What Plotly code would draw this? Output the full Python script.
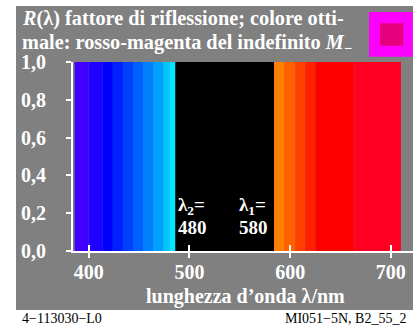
import plotly.graph_objects as go

# ---- data ----
band_start = [386, 400, 414, 424, 434, 444, 454, 464, 474, 480, 486, 584, 594, 605, 615, 625, 664]
band_end = [400, 414, 424, 434, 444, 454, 464, 474, 480, 486, 584, 594, 605, 615, 625, 664, 710]
band_height = [1.0, 1.0, 1.0, 1.0, 1.0, 1.0, 1.0, 1.0, 1.0, 1.0, 1.0, 1.0, 1.0, 1.0, 1.0, 1.0, 1.0]
band_color = ["#4000FF", "#2000FF", "#0000FF", "#0020FF", "#0040FF", "#0060FF", "#0080FF",
              "#00A0FF", "#00C4FF", "#00E4FF", "#000000", "#FF8000", "#FF6000", "#FF4000",
              "#FF2000", "#FF0000", "#FF0022"]
x_ticks = [400, 500, 600, 700]
y_ticks = [0.0, 0.2, 0.4, 0.6, 0.8, 1.0]
y_ticktext = ["0,0", "0,2", "0,4", "0,6", "0,8", "1,0"]
lambda2 = 480
lambda1 = 580

centers = [(a + b) / 2 for a, b in zip(band_start, band_end)]
widths = [b - a for a, b in zip(band_start, band_end)]

SERIF = "Liberation Serif"
GRAY = "#808080"
W, H = 413, 331
L, R, T, B = 73, 0, 62, 80
PW = W - L - R
PH = H - T - B


def px_x(p):
    return (p - L) / PW


def px_y(p):
    return (H - B - p) / PH


fig = go.Figure()
fig.add_trace(go.Bar(x=centers, y=band_height, width=widths,
                     marker=dict(color=band_color, line=dict(width=0)),
                     hoverinfo="skip", showlegend=False))
fig.add_trace(go.Scatter(x=[None], y=[None], xaxis="x2", showlegend=False, hoverinfo="skip"))

tickfont = dict(family=SERIF, size=20, color="white", weight="bold")

fig.update_layout(
    width=W, height=H,
    margin=dict(l=L, r=R, t=T, b=B, pad=0),
    paper_bgcolor="white",
    plot_bgcolor=GRAY,
    showlegend=False,
    xaxis=dict(range=[384.4, 722], tickvals=x_ticks, ticks="outside", ticklen=5,
               tickwidth=2, tickcolor="white", showline=True, linecolor="white",
               linewidth=2, showgrid=False, zeroline=False, tickfont=tickfont,
               ticklabelstandoff=-3),
    xaxis2=dict(range=[384.4, 722], overlaying="x", anchor="y", side="bottom",
                tickvals=x_ticks, ticks="inside", ticklen=6, tickwidth=2,
                tickcolor="white", showticklabels=False, showline=False,
                showgrid=False, zeroline=False),
    yaxis=dict(range=[0, 1.0], tickvals=y_ticks, ticktext=y_ticktext, ticks="outside",
               ticklen=5, tickwidth=2, tickcolor="white", showline=True,
               linecolor="white", linewidth=2, showgrid=False, zeroline=False,
               tickfont=tickfont, ticklabelstandoff=16),
)

shapes = [
    dict(type="rect", xref="paper", yref="paper", x0=px_x(16), x1=px_x(413),
         y0=px_y(310), y1=px_y(6), fillcolor=GRAY, line=dict(width=0), layer="below"),
    dict(type="rect", xref="paper", yref="paper", x0=px_x(369), x1=px_x(412.7),
         y0=px_y(56.7), y1=px_y(12), fillcolor="#FF00FF", line=dict(width=0)),
    dict(type="rect", xref="paper", yref="paper", x0=px_x(380), x1=px_x(403.3),
         y0=px_y(45.7), y1=px_y(23.3), fillcolor="#E6007E", line=dict(width=0)),
]
fig.update_layout(shapes=shapes)

titlefont = dict(family=SERIF, size=20.3, color="white", weight="bold")
ann = [
    dict(text="<i>R</i>(λ) fattore di riflessione; colore otti-", x=px_x(20), y=px_y(18.3),
         xanchor="left", yanchor="middle", font=titlefont),
    dict(text="male: rosso-magenta del indefinito <i>M</i><sub>−</sub>", x=px_x(20), y=px_y(43.3),
         xanchor="left", yanchor="middle", font=titlefont),
    dict(text="lunghezza d’onda λ/nm", x=px_x(245.5), y=px_y(296.3),
         xanchor="center", yanchor="middle", font=dict(family=SERIF, size=20, color="white", weight="bold")),
    dict(text="4−113030−L0", x=px_x(20), y=px_y(318.6), xanchor="left", yanchor="middle",
         font=dict(family=SERIF, size=14, color="black")),
    dict(text="MI051−5N, B2_55_2", x=px_x(408), y=px_y(318.6), xanchor="right",
         yanchor="middle", font=dict(family=SERIF, size=14, color="black")),
]
lblfont = dict(family=SERIF, size=19, color="white", weight="bold")
for lam, sub, xl in [(lambda2, "2", 176), (lambda1, "1", 237)]:
    ann.append(dict(text="λ<sub>%s</sub>=" % sub, x=px_x(xl), y=px_y(205.5),
                    xanchor="left", yanchor="middle", font=lblfont))
    ann.append(dict(text=str(lam), x=px_x(xl), y=px_y(227.5),
                    xanchor="left", yanchor="middle", font=lblfont))
for a in ann:
    a.update(xref="paper", yref="paper", showarrow=False)
fig.update_layout(annotations=ann)

fig.write_html("out.html", config={"displayModeBar": False},
               post_script="document.body.style.margin='0';")
